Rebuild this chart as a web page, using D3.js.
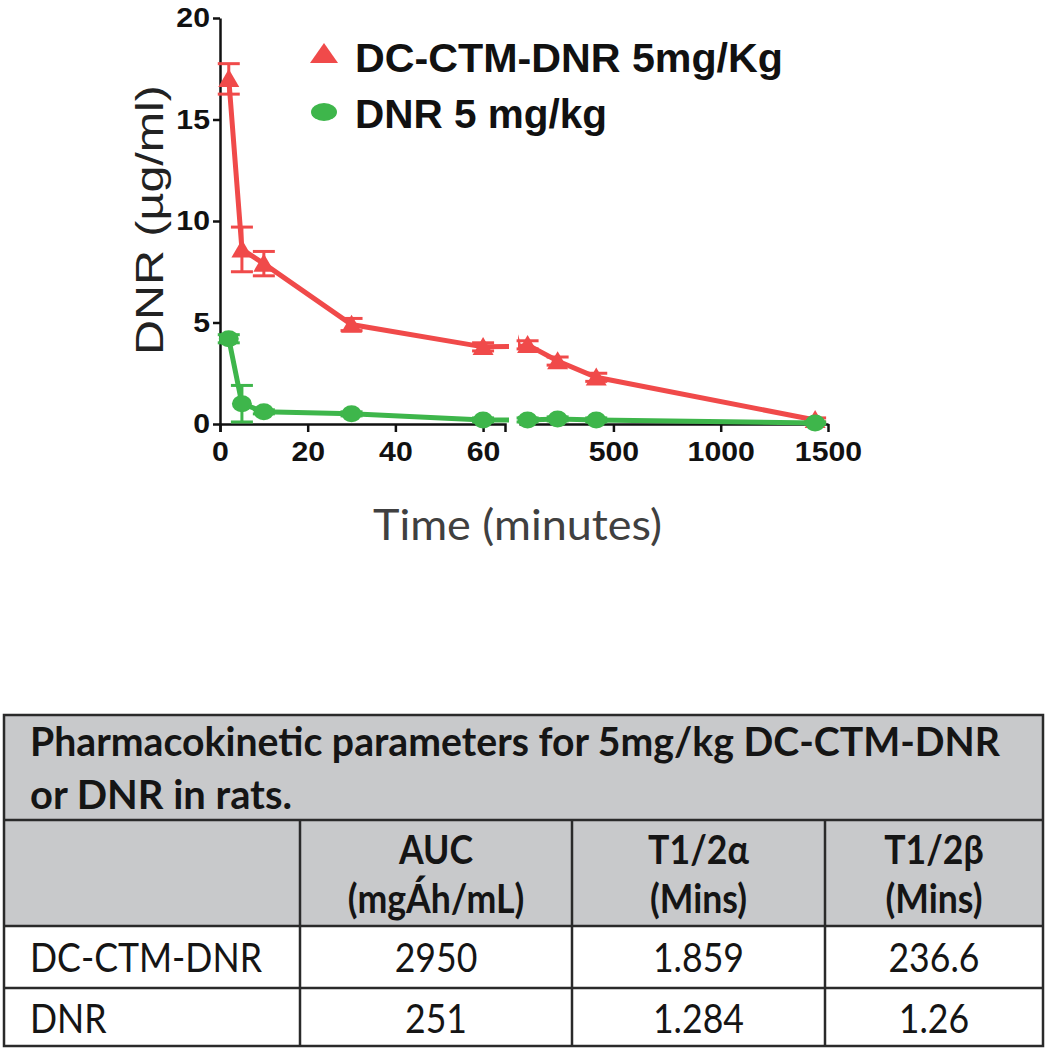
<!DOCTYPE html>
<html>
<head>
<meta charset="utf-8">
<script src="https://cdn.jsdelivr.net/npm/d3@7"></script>
<style>
  body { margin: 0; background: #fff; }
  svg { display: block; }
</style>
</head>
<body>
<svg id="fig" width="1047" height="1050"></svg>
<script>
// ---- data ----
const times = [2, 5, 10, 30, 60, 100, 240, 420, 1440];          // minutes
const dcCtmDnr = [17.0, 8.6, 7.9, 4.9, 3.8, 3.9, 3.1, 2.3, 0.2]; // ug/ml
const dcCtmDnrErr = [0.75, 1.1, 0.6, 0.3, 0.2, 0.2, 0.2, 0.2, 0.1];
const dnr = [4.2, 1.0, 0.6, 0.5, 0.2, 0.2, 0.25, 0.2, 0.05];
const dnrErr = [0.2, 0.9, 0.1, 0.1, 0.1, 0.1, 0.1, 0.1, 0.05];

const yTicks = [0, 5, 10, 15, 20];
const xTicksA = [0, 20, 40, 60];
const xTicksB = [500, 1000, 1500];
const seriesNames = ["DC-CTM-DNR 5mg/Kg", "DNR 5 mg/kg"];

const tableTitle = ["Pharmacokinetic parameters for 5mg/kg DC-CTM-DNR", "or DNR in rats."];
const colHeads = [["AUC", "(mgÁh/mL)"], ["T1/2α", "(Mins)"], ["T1/2β", "(Mins)"]];
const rowNames = ["DC-CTM-DNR", "DNR"];
const aucVals = ["2950", "251"];
const alphaVals = ["1.859", "1.284"];
const betaVals = ["236.6", "1.26"];

const RED = "#f04a4a", GREEN = "#3eb64b";
const chartFont = "'Liberation Sans', Arial, sans-serif";
const tableFont = "Lato, 'Open Sans', sans-serif";

const svg = d3.select("#fig");

function widen(sel, k) {
    sel.each(function () {
        var L = this.getComputedTextLength();
        d3.select(this).attr("textLength", L * k).attr("lengthAdjust", "spacingAndGlyphs");
    });
}

// ---- scales: broken x axis with two segments ----
const y = d3.scaleLinear().domain([0, 20]).range([424, 18]);
const xA = d3.scaleLinear().domain([0, 65]).range([220, 505]);
const xB = d3.scaleLinear().domain([60, 1500]).range([519, 828]);
const breakT = 65;

const defs = svg.append("defs");
defs.append("clipPath").attr("id", "clipA").append("rect")
    .attr("x", 150).attr("y", 0).attr("width", 509 - 150).attr("height", 500);
defs.append("clipPath").attr("id", "clipB").append("rect")
    .attr("x", 518).attr("y", 0).attr("width", 400).attr("height", 500);

// ---- axes ----
const fmt = d3.format("d");
const yAxis = svg.append("g").attr("transform", "translate(220,0)")
    .call(d3.axisLeft(y).tickValues(yTicks).tickFormat(fmt).tickSize(7).tickPadding(3).tickSizeOuter(0));
const xAxisA = svg.append("g").attr("transform", "translate(0,424)")
    .call(d3.axisBottom(xA).tickValues(xTicksA).tickFormat(fmt).tickSize(8).tickPadding(10).tickSizeOuter(8));
const xAxisB = svg.append("g").attr("transform", "translate(0,424)")
    .call(d3.axisBottom(xB).tickValues(xTicksB).tickFormat(fmt).tickSize(8).tickPadding(10).tickSizeOuter(0));

[yAxis, xAxisA, xAxisB].forEach(function (g) {
    g.select(".domain").attr("stroke", "#111").attr("stroke-width", 2.5);
    g.selectAll(".tick line").attr("stroke", "#111").attr("stroke-width", 2.5);
    g.selectAll(".tick text").attr("fill", "#111")
        .style("font-family", chartFont).style("font-size", "27px").style("font-weight", "bold");
    widen(g.selectAll(".tick text"), 1.12);
});

// ---- series ----
const series = [
    { name: seriesNames[0], vals: dcCtmDnr, err: dcCtmDnrErr, color: RED, shape: "tri" },
    { name: seriesNames[1], vals: dnr, err: dnrErr, color: GREEN, shape: "dot" }
];
series.forEach(function (s) {
    s.pts = times.map(function (t, i) { return { t: t, v: s.vals[i], e: s.err[i] }; });
});

function xOf(t) { return t <= breakT ? xA(t) : xB(t); }

function triPath(cx, cy, w, h) {
    return "M" + cx + "," + (cy - h * 0.55) + "L" + (cx + w / 2) + "," + (cy + h * 0.45) +
        "L" + (cx - w / 2) + "," + (cy + h * 0.45) + "Z";
}

series.forEach(function (s) {
    var g = svg.append("g");
    [[xA, "clipA"], [xB, "clipB"]].forEach(function (seg) {
        var line = d3.line().x(function (d) { return seg[0](d.t); }).y(function (d) { return y(d.v); });
        g.append("path").datum(s.pts)
            .attr("clip-path", "url(#" + seg[1] + ")")
            .attr("fill", "none").attr("stroke", s.color).attr("stroke-width", 5)
            .attr("d", line);
    });
    // error bars
    var eb = g.selectAll(".eb").data(s.pts).join("g");
    eb.append("line")
        .attr("x1", function (d) { return xOf(d.t); }).attr("x2", function (d) { return xOf(d.t); })
        .attr("y1", function (d) { return y(d.v + d.e); }).attr("y2", function (d) { return y(Math.max(0, d.v - d.e)); })
        .attr("stroke", s.color).attr("stroke-width", 3);
    [1, -1].forEach(function (sign) {
        eb.append("line")
            .attr("x1", function (d) { return xOf(d.t) - 11; }).attr("x2", function (d) { return xOf(d.t) + 11; })
            .attr("y1", function (d) { return y(Math.max(0, d.v + sign * d.e)); })
            .attr("y2", function (d) { return y(Math.max(0, d.v + sign * d.e)); })
            .attr("stroke", s.color).attr("stroke-width", 3);
    });
    // markers
    if (s.shape === "tri") {
        g.selectAll(".mk").data(s.pts).join("path")
            .attr("d", function (d) { return triPath(xOf(d.t), y(d.v), 21, 18); })
            .attr("fill", s.color);
    } else {
        g.selectAll(".mk").data(s.pts).join("ellipse")
            .attr("cx", function (d) { return xOf(d.t); }).attr("cy", function (d) { return y(d.v); })
            .attr("rx", 10).attr("ry", 8.5).attr("fill", s.color);
    }
});

// ---- legend ----
const legend = svg.append("g");
legend.append("path").attr("d", triPath(324, 54, 28, 20)).attr("fill", RED);
legend.append("ellipse").attr("cx", 324).attr("cy", 112).attr("rx", 13).attr("ry", 9).attr("fill", GREEN);
legend.selectAll("text").data(seriesNames).join("text")
    .attr("x", 355).attr("y", function (d, i) { return i === 0 ? 72 : 128; })
    .attr("fill", "#111").style("font-family", chartFont).style("font-size", "40px").style("font-weight", "bold")
    .text(function (d) { return d; });
legend.selectAll("text").attr("textLength", function (d, i) { return i === 0 ? 428 : 252; })
    .attr("lengthAdjust", "spacingAndGlyphs");

// ---- axis titles ----
svg.append("text").attr("transform", "translate(163,220) rotate(-90)")
    .attr("text-anchor", "middle").attr("fill", "#222")
    .style("font-family", chartFont).style("font-size", "38px")
    .attr("textLength", 270).attr("lengthAdjust", "spacingAndGlyphs")
    .text("DNR  (\u00b5g/ml)");
svg.append("text").attr("x", 373).attr("y", 540).attr("fill", "#404040")
    .style("font-family", tableFont).style("font-size", "42px")
    .attr("textLength", 289).attr("lengthAdjust", "spacingAndGlyphs")
    .text("Time (minutes)");

// ---- table ----
const tx0 = 4, tx1 = 1043;
const rowY = [715, 820, 926, 988, 1046];
const colX = [tx0, 300, 572, 825, tx1];
const tbl = svg.append("g");
tbl.append("rect").attr("x", tx0).attr("y", rowY[0]).attr("width", tx1 - tx0).attr("height", rowY[2] - rowY[0])
    .attr("fill", "#c8c9cb");
const border = "#2a2a2a";
tbl.append("rect").attr("x", tx0).attr("y", rowY[0]).attr("width", tx1 - tx0).attr("height", rowY[4] - rowY[0])
    .attr("fill", "none").attr("stroke", border).attr("stroke-width", 2.5);
tbl.selectAll(".hl").data(rowY.slice(1, 4)).join("line")
    .attr("x1", tx0).attr("x2", tx1).attr("y1", function (d) { return d; }).attr("y2", function (d) { return d; })
    .attr("stroke", border).attr("stroke-width", 2.5);
tbl.selectAll(".vl").data(colX.slice(1, 4)).join("line")
    .attr("x1", function (d) { return d; }).attr("x2", function (d) { return d; })
    .attr("y1", rowY[1]).attr("y2", rowY[4])
    .attr("stroke", border).attr("stroke-width", 2.5);

function tText(x, yy, str, bold, anchor) {
    return tbl.append("text").attr("x", x).attr("y", yy).attr("text-anchor", anchor || "start")
        .attr("fill", "#151515").style("font-family", tableFont).style("font-size", "40px")
        .style("font-weight", bold ? "bold" : "normal").text(str);
}
tText(30, 756, tableTitle[0], true).attr("textLength", 970).attr("lengthAdjust", "spacingAndGlyphs");
tText(30, 809, tableTitle[1], true).attr("textLength", 262).attr("lengthAdjust", "spacingAndGlyphs");

const cellTexts = [];
colHeads.forEach(function (h, j) {
    var cx = (colX[j + 1] + colX[j + 2]) / 2;
    cellTexts.push(tText(cx, 864, h[0], true, "middle"));
    cellTexts.push(tText(cx, 913, h[1], true, "middle"));
});
const rowBase = [972, 1033];
rowNames.forEach(function (r, i) {
    cellTexts.push(tText(30, rowBase[i], r, false));
    [aucVals, alphaVals, betaVals].forEach(function (col, j) {
        var cx = (colX[j + 1] + colX[j + 2]) / 2;
        cellTexts.push(tText(cx, rowBase[i], col[i], false, "middle"));
    });
});
// Calibri-like narrow set: squeeze to the measured width of the row label
const k = 232 / cellTexts[6].node().getComputedTextLength();
cellTexts.forEach(function (t) { widen(t, k); });
</script>
</body>
</html>
